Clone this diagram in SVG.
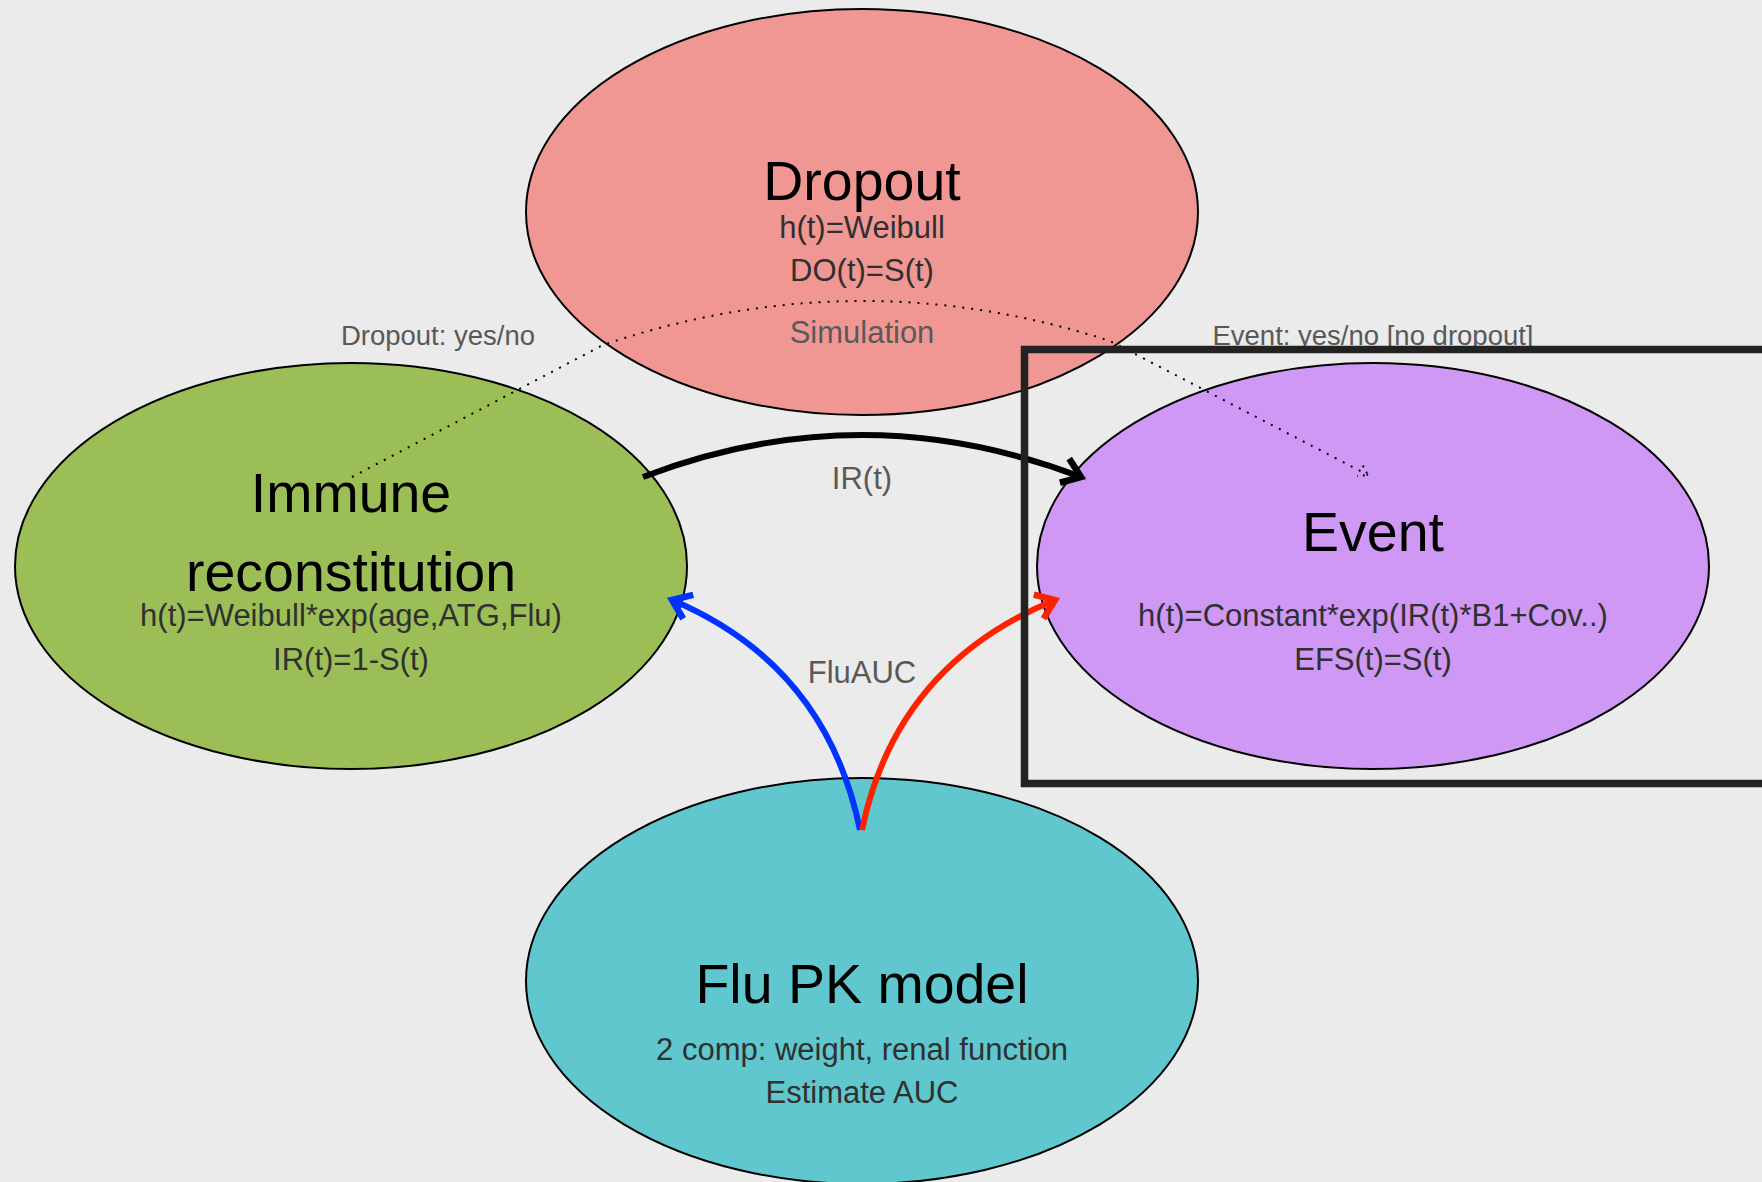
<svg xmlns="http://www.w3.org/2000/svg" width="1762" height="1182" viewBox="0 0 1762 1182">
<defs>
<style>
.node { stroke: #000; stroke-width: 2; }
.title { font-family: "Liberation Sans", Arial, sans-serif; font-size: 55.5px; fill: #000; text-anchor: middle; }
.sub { font-family: "Liberation Sans", Arial, sans-serif; font-size: 31px; fill: #303030; text-anchor: middle; }
.lbl { font-family: "Liberation Sans", Arial, sans-serif; font-size: 31px; fill: #595959; text-anchor: middle; }
.lbls { font-family: "Liberation Sans", Arial, sans-serif; font-size: 27.5px; fill: #595959; text-anchor: middle; }
.conn { fill: none; stroke-width: 6; }
</style>
<marker id="arrBlack" markerUnits="userSpaceOnUse" viewBox="-24 -20 30 40" markerWidth="30" markerHeight="40" refX="0" refY="0" orient="auto">
<path d="M -15 -11 L 0 0 L -15 11" fill="none" stroke="#000" stroke-width="6.5" stroke-linecap="square"/>
</marker>
<marker id="arrBlue" markerUnits="userSpaceOnUse" viewBox="-24 -20 30 40" markerWidth="30" markerHeight="40" refX="0" refY="0" orient="auto">
<path d="M -15 -11 L 0 0 L -15 11" fill="none" stroke="#0033ff" stroke-width="6.5" stroke-linecap="square"/>
</marker>
<marker id="arrRed" markerUnits="userSpaceOnUse" viewBox="-24 -20 30 40" markerWidth="30" markerHeight="40" refX="0" refY="0" orient="auto">
<path d="M -15 -11 L 0 0 L -15 11" fill="none" stroke="#ff2200" stroke-width="6.5" stroke-linecap="square"/>
</marker>
<marker id="arrDot" markerUnits="userSpaceOnUse" viewBox="-14 -10 20 20" markerWidth="20" markerHeight="20" refX="0" refY="0" orient="auto">
<path d="M -9 -6 L 0 0 L -9 6" fill="none" stroke="#000" stroke-width="2" stroke-dasharray="2 5"/>
</marker>
</defs>
<rect x="0" y="0" width="1762" height="1182" fill="#ebebeb"/>

<g id="node-dropout">
<ellipse class="node" cx="862" cy="212" rx="336" ry="203" fill="#f19793"/>
<text class="title" x="862" y="200">Dropout</text>
<text class="sub" x="862" y="238">h(t)=Weibull</text>
<text class="sub" x="862" y="281">DO(t)=S(t)</text>
</g>

<g id="node-immune">
<ellipse class="node" cx="351" cy="566" rx="336" ry="203" fill="#9cbe57"/>
<text class="title" x="351" y="512">Immune</text>
<text class="title" x="351" y="591">reconstitution</text>
<text class="sub" x="351" y="626">h(t)=Weibull*exp(age,ATG,Flu)</text>
<text class="sub" x="351" y="670">IR(t)=1-S(t)</text>
</g>

<g id="node-event">
<ellipse class="node" cx="1373" cy="566" rx="336" ry="203" fill="#cf98f5"/>
<text class="title" x="1373" y="551">Event</text>
<text class="sub" x="1373" y="626">h(t)=Constant*exp(IR(t)*B1+Cov..)</text>
<text class="sub" x="1373" y="670">EFS(t)=S(t)</text>
</g>

<g id="node-flupk">
<ellipse class="node" cx="862" cy="981" rx="336" ry="203" fill="#5fc7cd"/>
<text class="title" x="862" y="1003">Flu PK model</text>
<text class="sub" x="862" y="1060">2 comp: weight, renal function</text>
<text class="sub" x="862" y="1103">Estimate AUC</text>
</g>

<g id="connectors">
<path d="M 352 477 L 603 345 Q 857 259 1110 341 L 1368 475" fill="none" stroke="#000" stroke-width="2" stroke-dasharray="2 7" marker-end="url(#arrDot)"/>
<path class="conn" d="M 643 477 Q 862 393 1081 477" stroke="#000" marker-end="url(#arrBlack)"/>
<path class="conn" d="M 860 830 Q 826 665 672 600" stroke="#0033ff" marker-end="url(#arrBlue)"/>
<path class="conn" d="M 862 830 Q 896 665 1055 600" stroke="#ff2200" marker-end="url(#arrRed)"/>
<text class="lbl" x="862" y="343">Simulation</text>
<text class="lbls" x="438" y="345">Dropout: yes/no</text>
<text class="lbls" x="1373" y="345">Event: yes/no [no dropout]</text>
<text class="lbl" x="862" y="489">IR(t)</text>
<text class="lbl" x="862" y="683">FluAUC</text>
</g>

<g id="frame">
<rect x="1024.5" y="349.5" width="900" height="434" fill="none" stroke="#222" stroke-width="7.5"/>
</g>
</svg>
